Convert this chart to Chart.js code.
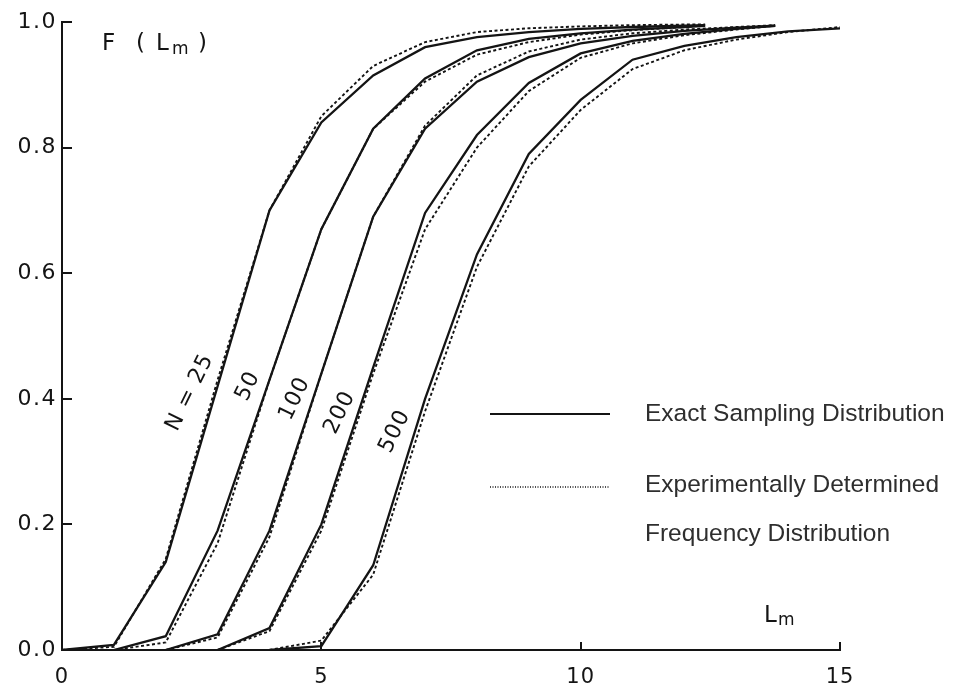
<!DOCTYPE html>
<html>
<head>
<meta charset="utf-8">
<script src="https://cdn.jsdelivr.net/npm/chart.js@4/dist/chart.umd.min.js"></script>
<style>
  html, body { margin: 0; padding: 0; background: #ffffff; }
  #wrap { width: 955px; height: 691px; position: relative; }
</style>
</head>
<body>
<div id="wrap"><canvas id="chart" width="955" height="691"></canvas></div>
<script>
// Cumulative distribution F(Lm) of the maximum run length Lm for several sample sizes N.
// Each sample size has the exact sampling distribution and the experimentally determined one.

const sampleSizes = ['N = 25', '50', '100', '200', '500'];

const lm25    = [0, 1, 2, 3, 4, 5, 6, 7, 8, 9, 10, 11, 12, 12.4];
const exact25 = [0, 0.008, 0.14, 0.42, 0.70, 0.84, 0.915, 0.96, 0.976, 0.984, 0.989, 0.992, 0.994, 0.995];
const expt25  = [0, 0.005, 0.145, 0.43, 0.70, 0.85, 0.93, 0.968, 0.984, 0.99, 0.993, 0.995, 0.996, 0.996];

const lm50    = [1, 2, 3, 4, 5, 6, 7, 8, 9, 10, 11, 12, 12.4];
const exact50 = [0, 0.022, 0.19, 0.43, 0.67, 0.83, 0.91, 0.955, 0.973, 0.982, 0.988, 0.992, 0.994];
const expt50  = [0, 0.012, 0.17, 0.43, 0.67, 0.83, 0.905, 0.948, 0.968, 0.98, 0.987, 0.992, 0.995];

const lm100    = [2, 3, 4, 5, 6, 7, 8, 9, 10, 11, 12, 13, 13.75];
const exact100 = [0, 0.025, 0.19, 0.44, 0.69, 0.83, 0.905, 0.944, 0.966, 0.978, 0.986, 0.991, 0.994];
const expt100  = [0, 0.02, 0.18, 0.44, 0.69, 0.835, 0.915, 0.953, 0.972, 0.982, 0.988, 0.992, 0.995];

const lm200    = [3, 4, 5, 6, 7, 8, 9, 10, 11, 12, 13, 13.75];
const exact200 = [0, 0.035, 0.20, 0.45, 0.696, 0.82, 0.903, 0.95, 0.97, 0.981, 0.989, 0.994];
const expt200  = [0, 0.03, 0.19, 0.44, 0.67, 0.80, 0.89, 0.943, 0.966, 0.979, 0.988, 0.994];

const lm500    = [4, 5, 6, 7, 8, 9, 10, 11, 12, 13, 14, 15];
const exact500 = [0, 0.006, 0.135, 0.40, 0.63, 0.79, 0.876, 0.94, 0.962, 0.976, 0.985, 0.99];
const expt500  = [0, 0.015, 0.12, 0.38, 0.61, 0.77, 0.86, 0.925, 0.955, 0.972, 0.984, 0.992];

const xTicks = [0, 5, 10, 15];
const yTicks = [0, 0.2, 0.4, 0.6, 0.8, 1.0];

const legendLabels = ['Exact Sampling Distribution', 'Experimentally Determined', 'Frequency Distribution'];

const curves = [
  [lm25, exact25, expt25],
  [lm50, exact50, expt50],
  [lm100, exact100, expt100],
  [lm200, exact200, expt200],
  [lm500, exact500, expt500]
];

const INK = '#141414';
const LETTER_FONT = '"DejaVu Sans", sans-serif';

function toPoints(xs, ys) {
  return xs.map((v, i) => ({ x: v, y: ys[i] }));
}

const datasets = [];
curves.forEach((c, i) => {
  datasets.push({
    label: sampleSizes[i] + ' exact',
    data: toPoints(c[0], c[1]),
    borderColor: INK,
    borderWidth: 2.3,
    pointRadius: 0,
    tension: 0,
    fill: false
  });
  datasets.push({
    label: sampleSizes[i] + ' experimental',
    data: toPoints(c[0], c[2]),
    borderColor: INK,
    borderWidth: 1.9,
    borderDash: [3, 2.5],
    pointRadius: 0,
    tension: 0,
    fill: false
  });
});

// Where each sample-size label sits along its curve (data units) and its tilt.
const curveLabelSpots = [
  { lm: 2.47, f: 0.41 },
  { lm: 3.59, f: 0.42 },
  { lm: 4.49, f: 0.40 },
  { lm: 5.36, f: 0.378 },
  { lm: 6.42, f: 0.348 }
];
const LABEL_TILT = -64 * Math.PI / 180;

function lettered(ctx, size, spacing) {
  ctx.font = size + 'px ' + LETTER_FONT;
  ctx.letterSpacing = spacing + 'px';
}

const decorations = {
  id: 'decorations',
  afterDatasetsDraw(chart) {
    const { ctx, chartArea: a, scales: { x, y } } = chart;
    ctx.save();

    // inward tick marks
    ctx.strokeStyle = INK;
    ctx.lineWidth = 2;
    ctx.beginPath();
    yTicks.forEach(v => {
      if (v === 0) return;
      const py = Math.round(y.getPixelForValue(v));
      ctx.moveTo(a.left, py);
      ctx.lineTo(a.left + 10, py);
    });
    xTicks.forEach(v => {
      if (v === 0) return;
      const px = Math.round(x.getPixelForValue(v));
      ctx.moveTo(px, a.bottom);
      ctx.lineTo(px, a.bottom - 8);
    });
    ctx.stroke();

    ctx.fillStyle = INK;

    // tick labels
    lettered(ctx, 22, 1.5);
    ctx.textAlign = 'right';
    ctx.textBaseline = 'middle';
    yTicks.forEach(v => {
      ctx.fillText(v.toFixed(1), a.left - 5, y.getPixelForValue(v));
    });
    lettered(ctx, 21, 1);
    ctx.textAlign = 'center';
    ctx.textBaseline = 'top';
    xTicks.forEach(v => {
      ctx.fillText(String(v), x.getPixelForValue(v), a.bottom + 17);
    });

    // curve labels
    lettered(ctx, 22, 1);
    ctx.textAlign = 'center';
    ctx.textBaseline = 'middle';
    sampleSizes.forEach((txt, i) => {
      const s = curveLabelSpots[i];
      ctx.save();
      ctx.translate(x.getPixelForValue(s.lm), y.getPixelForValue(s.f));
      ctx.rotate(LABEL_TILT);
      ctx.fillText(txt, 0, 0);
      ctx.restore();
    });

    // axis titles F(Lm) and Lm
    ctx.textAlign = 'left';
    ctx.textBaseline = 'alphabetic';
    const tx = a.left + 40, ty = a.top + 28;
    lettered(ctx, 23, 1);
    ctx.fillText('F', tx, ty);
    ctx.fillText('(', tx + 34, ty);
    ctx.fillText('L', tx + 54, ty);
    lettered(ctx, 17, 0.5);
    ctx.fillText('m', tx + 70, ty + 4);
    lettered(ctx, 23, 1);
    ctx.fillText(')', tx + 96, ty);

    lettered(ctx, 23, 1);
    ctx.fillText('L', a.left + 702, a.bottom - 28);
    lettered(ctx, 17, 0.5);
    ctx.fillText('m', a.left + 716, a.bottom - 25);
    ctx.letterSpacing = '0px';

    // legend
    const lx0 = a.left + 428, lx1 = a.left + 548;
    ctx.lineWidth = 2;
    ctx.setLineDash([]);
    ctx.beginPath();
    ctx.moveTo(lx0, 414);
    ctx.lineTo(lx1, 414);
    ctx.stroke();
    ctx.lineWidth = 1.5;
    ctx.setLineDash([1, 1.5]);
    ctx.beginPath();
    ctx.moveTo(lx0, 487);
    ctx.lineTo(lx1, 487);
    ctx.stroke();
    ctx.setLineDash([]);

    ctx.fillStyle = '#2e2e2e';
    ctx.font = '24.5px "Liberation Sans", Arial, sans-serif';
    ctx.fillText(legendLabels[0], a.left + 583, 421);
    ctx.fillText(legendLabels[1], a.left + 583, 492);
    ctx.fillText(legendLabels[2], a.left + 583, 541);

    ctx.restore();
  }
};

function zeroPad(scale) {
  scale.paddingTop = 0;
  scale.paddingBottom = 0;
  scale.paddingLeft = 0;
  scale.paddingRight = 0;
}

new Chart(document.getElementById('chart'), {
  type: 'line',
  data: { datasets },
  options: {
    responsive: false,
    animation: false,
    devicePixelRatio: 1,
    layout: { padding: { left: 0, top: 22, right: 115, bottom: 0 } },
    plugins: {
      legend: { display: false },
      tooltip: { enabled: false }
    },
    scales: {
      x: {
        type: 'linear',
        min: 0,
        max: 15,
        afterFit(scale) { scale.height = 41; zeroPad(scale); },
        afterBuildTicks(scale) { scale.ticks = xTicks.map(v => ({ value: v })); },
        grid: { display: false, drawTicks: false },
        border: { display: true, color: INK, width: 2 },
        ticks: { display: false }
      },
      y: {
        type: 'linear',
        min: 0,
        max: 1,
        afterFit(scale) { scale.width = 62; zeroPad(scale); },
        afterBuildTicks(scale) { scale.ticks = yTicks.map(v => ({ value: v })); },
        grid: { display: false, drawTicks: false },
        border: { display: true, color: INK, width: 2 },
        ticks: { display: false }
      }
    }
  },
  plugins: [decorations]
});
</script>
</body>
</html>
